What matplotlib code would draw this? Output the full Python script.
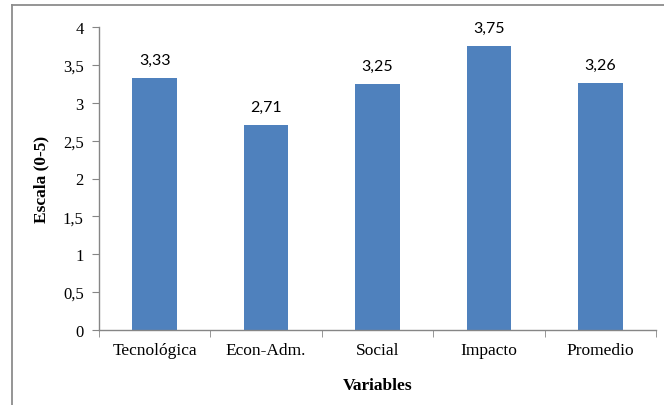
import matplotlib
matplotlib.use("Agg")
import matplotlib.pyplot as plt
from matplotlib.lines import Line2D

categories = ["Tecnológica", "Econ-Adm.", "Social", "Impacto", "Promedio"]
values = [3.33, 2.71, 3.25, 3.75, 3.26]
yticks = [0, 0.5, 1, 1.5, 2, 2.5, 3, 3.5, 4]
ytick_labels = ["0", "0,5", "1", "1,5", "2", "2,5", "3", "3,5", "4"]

bar_color = "#4F81BD"
axis_color = "#868686"

fig = plt.figure(figsize=(6.64, 4.06), dpi=100)
fig.patch.set_facecolor("white")

# outer chart frame: left and top edges only
fx, fy = 11.5 / 664, 1 - 5.5 / 406
fig.add_artist(Line2D([fx, fx], [0, fy], transform=fig.transFigure,
                      color="#8c8c8c", linewidth=1.3))
fig.add_artist(Line2D([fx, 1], [fy, fy], transform=fig.transFigure,
                      color="#8c8c8c", linewidth=1.3))

ax = fig.add_axes([99 / 664, 1 - 331 / 406, (656 - 99) / 664, (331 - 28) / 406])
x = list(range(len(categories)))
bars = ax.bar(x, values, width=0.4, color=bar_color, zorder=2)

ax.set_xlim(-0.5, len(categories) - 0.5)
ax.set_ylim(0, 4)

for spine in ["top", "right"]:
    ax.spines[spine].set_visible(False)
for spine in ["left", "bottom"]:
    ax.spines[spine].set_color(axis_color)
    ax.spines[spine].set_linewidth(1.0)

serif = "Liberation Serif"
ax.set_yticks(yticks)
ax.set_yticklabels(ytick_labels, fontfamily=serif, fontsize=12)
ax.set_xticks(x)
ax.set_xticklabels(categories, fontfamily=serif, fontsize=12.5)
ax.tick_params(axis="x", length=0, pad=9)
ax.tick_params(axis="y", length=5, color=axis_color, direction="out", pad=6)
# category boundary ticks on the x axis
ax.set_xticks([i - 0.5 for i in range(len(categories) + 1)], minor=True)
ax.tick_params(axis="x", which="minor", length=5, color=axis_color, direction="out")

for xi, v in zip(x, values):
    ax.annotate(f"{v:.2f}".replace(".", ","), (xi, v), xytext=(0, 8),
                textcoords="offset points", ha="center", va="bottom",
                fontfamily="Lato", fontsize=11.5, color="#000000")

ax.set_xlabel("Variables", fontfamily=serif, fontweight="bold", fontsize=12.5, labelpad=13)
ax.set_ylabel("Escala (0-5)", fontfamily=serif, fontweight="bold", fontsize=12.5, labelpad=10)

fig.savefig("out.png", dpi=100)
